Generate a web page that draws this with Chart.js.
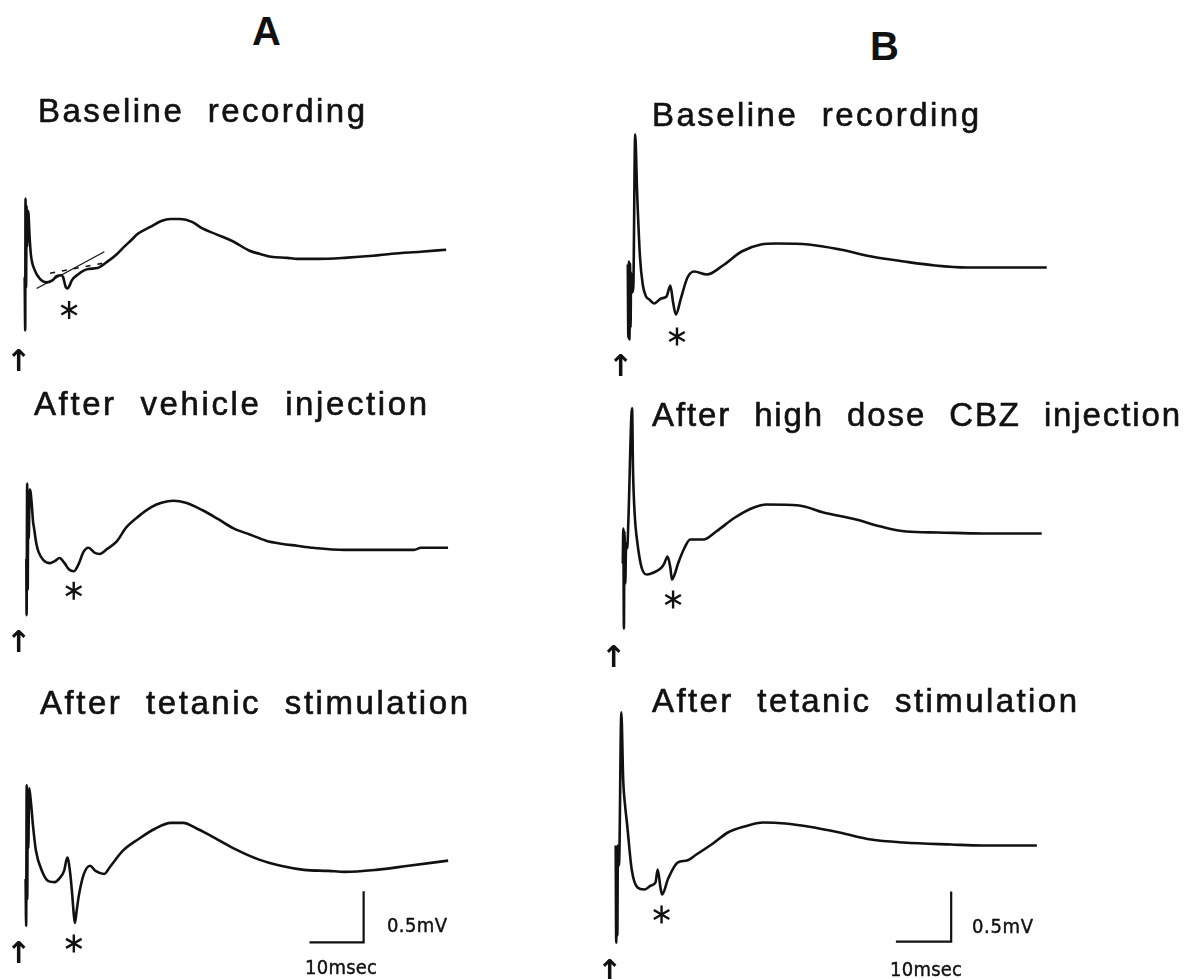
<!DOCTYPE html>
<html>
<head>
<meta charset="utf-8">
<script src="https://cdn.jsdelivr.net/npm/chart.js@4.4.1/dist/chart.umd.min.js"></script>
<style>
  html, body { margin: 0; padding: 0; background: #fff; }
  body { width: 1200px; height: 979px; position: relative; overflow: hidden; }
  canvas { position: absolute; }
  .lbl { position: absolute; white-space: pre; color: #111; line-height: 1; }
  .title { font-family: "Liberation Sans", Arial, sans-serif; font-size: 33px; word-spacing: 12px; -webkit-text-stroke: 0.6px #111; }
  .head { font-family: "Liberation Sans", Arial, sans-serif; font-size: 40px; font-weight: bold; }
  .bar { font-family: "DejaVu Sans", sans-serif; font-stretch: condensed; font-size: 20px; -webkit-text-stroke: 0.4px #111; }
  .arrow { font-family: "DejaVu Sans", sans-serif; font-size: 30px; font-weight: bold; text-align: center; width: 24px; }
</style>
</head>
<body>
<script>
// time in msec after the stimulus, amplitude in mV (0 = late baseline of each sweep)

// column A
const traceA1 = [[-0.1,-0.2],[0,-0.72],[0.05,0.57],[0.15,-0.3],[0.25,0.5],[0.35,0.1],[0.45,0.45],[0.6,0.42],[0.8,0.2],[1.05,0.02],[1.75,-0.13],[2.8,-0.22],[4.0,-0.25],[5.0,-0.23],[5.8,-0.19],[6.6,-0.18],[7.0,-0.2],[7.5,-0.3],[7.8,-0.31],[8.2,-0.28],[8.6,-0.23],[9.8,-0.17],[11.6,-0.12],[13.3,-0.11],[15.1,-0.05],[16.8,0.02],[18.1,0.09],[19.5,0.16],[20.9,0.23],[23.0,0.29],[25.1,0.35],[26.8,0.37],[28.6,0.37],[30.9,0.34],[32.6,0.28],[35.3,0.22],[38.4,0.15],[41.4,0.06],[43.2,0.03],[45.4,0.0],[48.4,-0.01],[50.2,-0.02],[54,-0.02],[58.9,-0.01],[64.2,0.01],[67.7,0.03],[73,0.05],[77.7,0.07]];
const tangentA1 = [[2.1,-0.31],[14.6,0.05]];
const dashA1 = [[4.6,-0.16],[14.6,-0.06]];

const traceA2 = [[-0.35,-0.1],[-0.3,-0.65],[-0.2,0.64],[-0.1,-0.4],[0,0.5],[0.1,0.1],[0.25,0.58],[0.45,0.55],[0.7,0.4],[0.9,0.26],[1.05,0.21],[1.5,0.05],[1.9,-0.03],[2.8,-0.11],[4.0,-0.14],[4.9,-0.12],[5.8,-0.09],[6.7,-0.14],[7.5,-0.2],[8.4,-0.22],[9.3,-0.15],[10.2,-0.03],[11.1,0.01],[12.3,-0.04],[13.2,-0.05],[14.6,0],[16.3,0.07],[18.1,0.21],[20.4,0.32],[22.8,0.41],[24.6,0.45],[26.8,0.47],[29.1,0.45],[32.1,0.38],[35.1,0.29],[37.9,0.2],[40.9,0.14],[43.9,0.08],[46.7,0.05],[49.6,0.03],[52.6,0.01],[58.4,-0.01],[64.2,-0.01],[71.2,-0.01],[72.5,0.01],[77.5,0.01]];

const traceA3 = [[-0.3,-0.1],[-0.2,-0.56],[-0.1,0.82],[0,-0.3],[0.1,0.7],[0.2,0.2],[0.35,0.79],[0.7,0.64],[1.05,0.43],[1.6,0.18],[2.8,-0.03],[3.9,-0.12],[5.1,-0.13],[6.0,-0.09],[6.8,-0.02],[7.4,0.11],[7.9,-0.03],[8.3,-0.25],[8.6,-0.45],[8.8,-0.53],[9.1,-0.42],[9.5,-0.27],[10.4,-0.06],[11.6,0.03],[12.6,-0.02],[14.2,-0.05],[15.3,0.02],[17.7,0.18],[20.5,0.29],[23.5,0.39],[26.5,0.45],[28.8,0.45],[31.1,0.4],[34.0,0.32],[38.1,0.2],[42.8,0.09],[46.8,0.03],[51.1,-0.01],[55.6,-0.02],[58.6,-0.03],[64.4,-0.01],[70.4,0.03],[77.7,0.08]];

// column B
const traceB1 = [[-0.3,0.03],[-0.2,-0.7],[-0.1,0.06],[0,-0.72],[0.1,0.04],[0.2,-0.6],[0.3,-0.05],[0.5,-0.25],[0.7,-0.19],[1.03,1.33],[1.4,0.73],[1.9,0.11],[2.4,-0.17],[3.0,-0.29],[3.6,-0.32],[4.5,-0.36],[5.7,-0.31],[6.7,-0.29],[7.4,-0.18],[7.9,-0.35],[8.4,-0.47],[9.3,-0.31],[10.5,-0.1],[11.7,-0.04],[14.0,-0.07],[16.9,0.02],[20.3,0.16],[23.8,0.23],[26.6,0.24],[32.4,0.23],[38.1,0.18],[43.8,0.11],[49.7,0.06],[55.3,0.02],[61.0,0],[66.9,0],[75.5,0]];

const traceB2 = [[-0.3,-0.3],[-0.2,0.05],[-0.1,-0.95],[0,0.02],[0.15,-0.5],[0.3,-0.1],[0.5,-0.15],[0.7,0.11],[1.38,1.25],[1.55,0.63],[1.9,0.15],[2.24,-0.05],[3.1,-0.34],[4.1,-0.41],[5.3,-0.39],[6.7,-0.34],[7.2,-0.3],[7.8,-0.23],[8.3,-0.34],[8.6,-0.46],[9.0,-0.42],[9.7,-0.3],[10.9,-0.14],[11.9,-0.06],[14.3,-0.06],[16.6,0.02],[20.0,0.16],[23.4,0.26],[25.7,0.29],[31.6,0.28],[36.0,0.21],[41.9,0.14],[46.4,0.07],[51.0,0.02],[56.7,0.01],[64.8,0],[75.5,0]];

const traceB3 = [[-0.5,0.0],[-0.4,-0.97],[-0.3,-0.05],[-0.2,-0.9],[-0.1,0.0],[0.1,-0.2],[0.52,1.33],[0.86,0.65],[1.2,0.4],[1.55,0.22],[2.4,-0.24],[3.45,-0.42],[4.65,-0.44],[5.9,-0.4],[6.7,-0.37],[7.1,-0.24],[7.6,-0.42],[7.9,-0.49],[9.0,-0.33],[10.7,-0.17],[12.4,-0.15],[14.1,-0.09],[17.1,0.02],[19.8,0.13],[22.8,0.19],[26.2,0.23],[30.2,0.22],[34.3,0.19],[40.0,0.13],[45.7,0.06],[51.6,0.03],[60.2,0.01],[65.9,0],[75.7,0]];

// asterisk marks under the population spike
const starA1 = [8.1,-0.52], starA2 = [8.4,-0.41], starA3 = [8.6,-0.73];
const starB1 = [8.6,-0.69], starB2 = [8.8,-0.66], starB3 = [7.8,-0.69];

// calibration bars: 10 msec / 0.5 mV
const barMs = 10, barMv = 0.5;
const barCornerA = [62.1,-0.72], barCornerB = [60.2,-0.96];

const titles = ['Baseline recording', 'After vehicle injection', 'After tetanic stimulation',
                'Baseline recording', 'After high dose CBZ injection', 'After tetanic stimulation'];

// ---- layout ----
const T_MIN = -2, T_MAX = 80, V_MIN = -1.3, V_MAX = 1.6;
const panels = [
  { x0: 14,  y0: 258, pxMs: 5.7, pxMv: 110 },
  { x0: 17,  y0: 550, pxMs: 5.7, pxMv: 110 },
  { x0: 16,  y0: 870, pxMs: 5.7, pxMv: 110 },
  { x0: 619, y0: 269, pxMs: 5.8, pxMv: 108 },
  { x0: 614, y0: 535, pxMs: 5.8, pxMv: 108 },
  { x0: 608, y0: 847, pxMs: 5.8, pxMv: 108 }
];

const INK = '#111';
const xy = pts => pts.map(([t, v]) => ({ x: t, y: v }));

function traceSet(pts) {
  return { data: xy(pts), borderColor: INK, borderWidth: 2.6, pointRadius: 0,
           cubicInterpolationMode: 'monotone', fill: false };
}
function starSet(p) {
  return { data: xy([p, p, p]), showLine: false, pointStyle: 'line', pointRadius: 9,
           pointRotation: [90, 30, 150], pointBorderWidth: 2.4, pointBorderColor: INK };
}
function barSet(corner) {
  const [t, v] = corner;
  return { data: xy([[t - barMs, v], [t, v], [t, v + barMv]]), borderColor: INK,
           borderWidth: 2.2, pointRadius: 0, tension: 0 };
}

function makePanel(p, datasets) {
  const c = document.createElement('canvas');
  c.width = Math.round((T_MAX - T_MIN) * p.pxMs);
  c.height = Math.round((V_MAX - V_MIN) * p.pxMv);
  c.style.left = (p.x0 + T_MIN * p.pxMs) + 'px';
  c.style.top = (p.y0 - V_MAX * p.pxMv) + 'px';
  document.body.appendChild(c);
  new Chart(c, {
    type: 'line',
    data: { datasets },
    options: {
      responsive: false, animation: false, devicePixelRatio: 1, events: [],
      layout: { padding: 0 },
      plugins: { legend: { display: false }, tooltip: { enabled: false } },
      scales: {
        x: { type: 'linear', display: false, min: T_MIN, max: T_MAX },
        y: { type: 'linear', display: false, min: V_MIN, max: V_MAX }
      }
    }
  });
}

makePanel(panels[0], [
  traceSet(traceA1),
  { data: xy(tangentA1), borderColor: INK, borderWidth: 1.3, pointRadius: 0, tension: 0 },
  { data: xy(dashA1), borderColor: INK, borderWidth: 1.6, borderDash: [5, 7], pointRadius: 0, tension: 0 },
  starSet(starA1)
]);
makePanel(panels[1], [traceSet(traceA2), starSet(starA2)]);
makePanel(panels[2], [traceSet(traceA3), starSet(starA3), barSet(barCornerA)]);
makePanel(panels[3], [traceSet(traceB1), starSet(starB1)]);
makePanel(panels[4], [traceSet(traceB2), starSet(starB2)]);
makePanel(panels[5], [traceSet(traceB3), starSet(starB3), barSet(barCornerB)]);

// ---- text ----
function addLabel(text, cls, left, baseline, width) {
  const el = document.createElement('div');
  el.className = 'lbl ' + cls;
  el.textContent = text;
  document.body.appendChild(el);
  const size = parseFloat(getComputedStyle(el).fontSize);
  el.style.left = left + 'px';
  el.style.top = (baseline - 0.846 * size) + 'px';
  if (width) {
    const natural = el.getBoundingClientRect().width;
    el.style.letterSpacing = ((width - natural) / (text.length - 1)) + 'px';
  }
  return el;
}

addLabel('A', 'head', 252, 45);
addLabel('B', 'head', 870, 60);

const titlePos = [[38, 122, 327], [34, 415, 393], [40, 714, 428],
                  [652, 126, 327], [652, 426, 528], [652, 712, 425]];
titles.forEach((t, i) => addLabel(t, 'title', titlePos[i][0], titlePos[i][1], titlePos[i][2]));

addLabel('0.5mV', 'bar', 387, 932, 60);
addLabel('10msec', 'bar', 305, 974, 72);
addLabel('0.5mV', 'bar', 972, 933, 61);
addLabel('10msec', 'bar', 890, 976, 72);

// stimulus arrows
[[18, 361], [18, 642], [18, 953], [620, 366], [613, 657], [609, 971]].forEach(([cx, cy]) => {
  const el = document.createElement('div');
  el.className = 'lbl arrow';
  el.textContent = '↑';
  el.style.left = (cx - 12) + 'px';
  el.style.top = (cy - 15) + 'px';
  document.body.appendChild(el);
});
</script>
</body>
</html>
